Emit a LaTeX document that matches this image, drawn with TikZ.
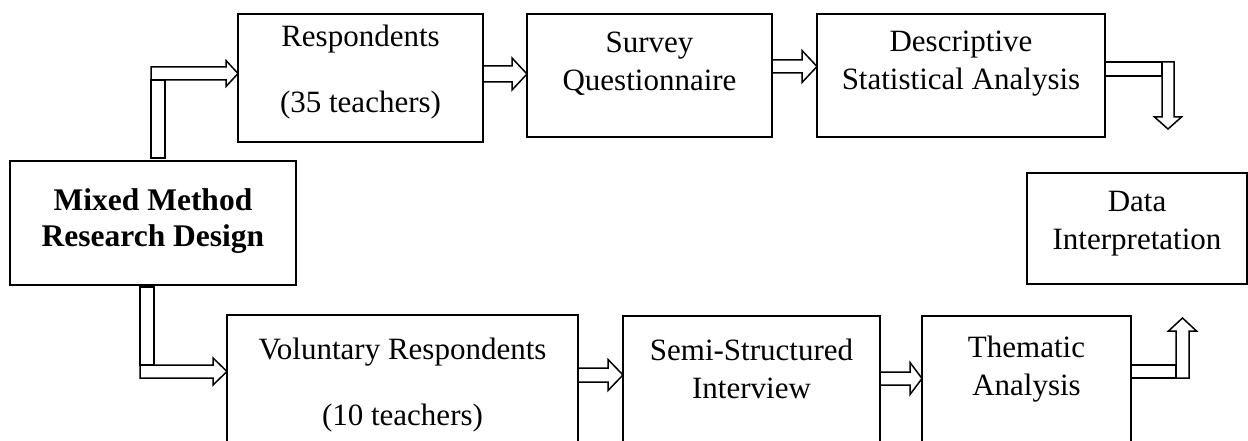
\documentclass[tikz,border=0pt]{standalone}
\usepackage{fontspec}
\setmainfont{Liberation Serif}
\usetikzlibrary{calc}
\tikzset{
  box/.style={draw=black,line width=1.6pt,rectangle,inner sep=0pt,outer sep=0pt},
  mainbox/.style={box,line width=2.2pt},
  txt/.style={align=center,inner sep=0pt,font=\fontsize{31}{38}\selectfont},
  blk/.style={draw=black,fill=white,line width=1.5pt,line join=miter},
}
% horizontal block arrow: start, tip, half shaft, half head, head length
\newcommand\hblock[5]{%
  \draw[blk] ($(#1)+(0,#3)$) -- ($(#2)+(-#5,#3)$) -- ($(#2)+(-#5,#4)$) -- (#2)
    -- ($(#2)+(-#5,-#4)$) -- ($(#2)+(-#5,-#3)$) -- ($(#1)+(0,-#3)$) -- cycle;}
% vertical block arrow: start, tip, half shaft, half head, signed head length (+ down, - up)
\newcommand\vblock[5]{%
  \draw[blk] ($(#1)+(-#3,0)$) -- ($(#2)+(-#3,#5)$) -- ($(#2)+(-#4,#5)$) -- (#2)
    -- ($(#2)+(#4,#5)$) -- ($(#2)+(#3,#5)$) -- ($(#1)+(#3,0)$) -- cycle;}
\begin{document}
\begin{tikzpicture}[x=1pt,y=1pt]
\useasboundingbox (0,0) rectangle (1248,-441);
% boxes
\node[mainbox,minimum width=286pt,minimum height=124pt] (main) at (153,-223) {};
\node[box,minimum width=245pt,minimum height=128pt] (resp) at (360.5,-78) {};
\node[box,minimum width=245pt,minimum height=123pt] (survey) at (649.5,-75.5) {};
\node[box,minimum width=288pt,minimum height=123pt] (desc) at (961,-75.5) {};
\node[box,minimum width=220pt,minimum height=111pt] (data) at (1137,-228.5) {};
\node[box,minimum width=351pt,minimum height=155pt] (vol) at (402.5,-392.5) {};
\node[box,minimum width=257pt,minimum height=154pt] (semi) at (751.5,-393) {};
\node[box,minimum width=209pt,minimum height=154pt] (them) at (1026.5,-393) {};
% texts
\node[txt,font=\fontsize{31.5}{36}\selectfont\bfseries] (tmain) at (153,-221) {Mixed Method\\Research Design};
\node[txt] (tresp) at (360.5,-72) {Respondents\\[28pt](35 teachers)};
\node[txt] (tsurvey) at (649.5,-64) {Survey\\Questionnaire};
\node[txt] (tdesc) at (961,-64) {Descriptive\\Statistical Analysis};
\node[txt] (tdata) at (1137,-224) {Data\\Interpretation};
\node[txt] (tvol) at (402.5,-385) {Voluntary Respondents\\[28pt](10 teachers)};
\node[txt] (tsemi) at (751.5,-369) {Semi-Structured\\Interview};
\node[txt] (tthem) at (1026.5,-369) {Thematic\\Analysis};
% arrow anchor points
\coordinate (a1s) at (151,-73.5);
\coordinate (a1t) at (resp.west |- a1s);
\coordinate (a2s) at (resp.east |- 0,-74);
\coordinate (a2t) at (survey.west |- a2s);
\coordinate (a3s) at (survey.east |- 0,-66.5);
\coordinate (a3t) at (desc.west |- a3s);
\coordinate (a4s) at (1168,-62);
\coordinate (a4t) at (1168,-129);
\coordinate (a5s) at (140,-371.5);
\coordinate (a5t) at (vol.west |- a5s);
\coordinate (a6s) at (vol.east |- 0,-375);
\coordinate (a6t) at (semi.west |- a6s);
\coordinate (a7s) at (semi.east |- 0,-378.5);
\coordinate (a7t) at (them.west |- a7s);
\coordinate (a8s) at (1182.5,-378);
\coordinate (a8t) at (1182.5,-318);
% bars
\draw[blk] (151,-80) rectangle (165,-158);
\draw[blk] (140,-287) rectangle (154,-365);
\draw[blk] (desc.east |- 0,-62) rectangle (1162,-76);
\draw[blk] (them.east |- 0,-365) rectangle (1176,-378);
% arrows
\hblock{a1s}{a1t}{6.5}{13}{12}
\hblock{a2s}{a2t}{8}{16}{15}
\hblock{a3s}{a3t}{6.5}{16}{15}
\vblock{a4s}{a4t}{6}{13.5}{12}
\hblock{a5s}{a5t}{6.5}{13.5}{14}
\hblock{a6s}{a6t}{7}{15.5}{15}
\hblock{a7s}{a7t}{6.5}{16}{12}
\vblock{a8s}{a8t}{6.5}{14}{-13}
\end{tikzpicture}
\end{document}
